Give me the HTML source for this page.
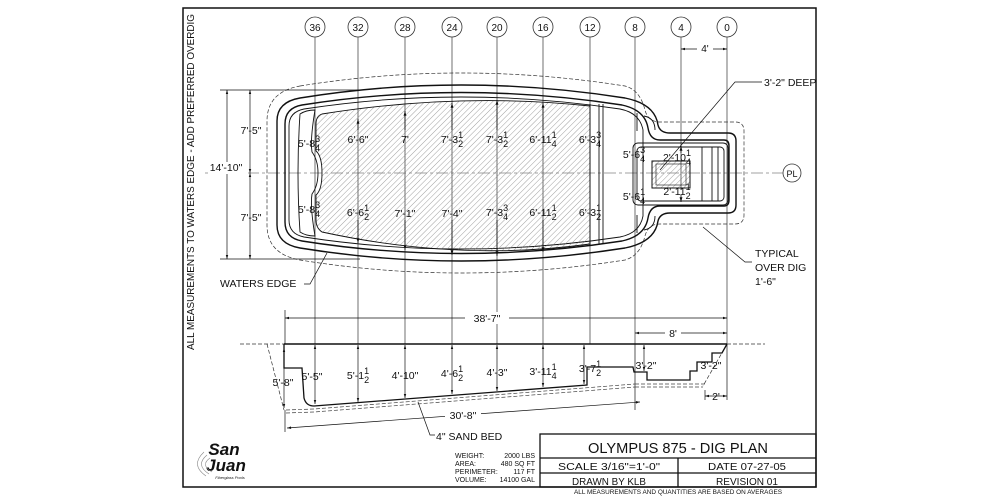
<!DOCTYPE html>
<html><head><meta charset="utf-8"><style>
html,body{margin:0;padding:0;background:#fff;}
svg{display:block;}
text{font-family:"Liberation Sans",Arial,sans-serif;fill:#111;}
</style></head><body>
<svg width="1000" height="500" viewBox="0 0 1000 500" xmlns="http://www.w3.org/2000/svg">
<defs>
<pattern id="h" width="4" height="4" patternUnits="userSpaceOnUse" patternTransform="rotate(45)">
<line x1="0" y1="0" x2="0" y2="4" stroke="#777" stroke-width="0.7"/></pattern>
<marker id="a" viewBox="0 0 10 10" refX="10" refY="5" markerWidth="6" markerHeight="6" orient="auto-start-reverse"><path d="M0,2 L10,5 L0,8 Z" fill="#111"/></marker>
</defs>
<rect width="1000" height="500" fill="#fff"/>
<!-- frame -->
<rect x="183" y="8" width="633" height="479" fill="none" stroke="#111" stroke-width="1.5"/>
<text transform="translate(194,182) rotate(-90)" font-size="10.5" text-anchor="middle" textLength="336" lengthAdjust="spacingAndGlyphs">ALL MEASUREMENTS TO WATERS EDGE - ADD PREFERRED OVERDIG</text>

<!-- column lines & circles -->
<g stroke="#333" stroke-width="0.7" fill="none">
<line x1="315" y1="37" x2="315" y2="344"/><line x1="358" y1="37" x2="358" y2="344"/>
<line x1="405" y1="37" x2="405" y2="344"/><line x1="452" y1="37" x2="452" y2="344"/>
<line x1="497" y1="37" x2="497" y2="344"/><line x1="543" y1="37" x2="543" y2="344"/>
<line x1="590" y1="37" x2="590" y2="344"/><line x1="635" y1="37" x2="635" y2="344"/>
<line x1="681" y1="37" x2="681" y2="190"/><line x1="727" y1="37" x2="727" y2="344"/>
</g>
<g fill="#fff" stroke="#333" stroke-width="0.8">
<circle cx="315" cy="27" r="10"/><circle cx="358" cy="27" r="10"/><circle cx="405" cy="27" r="10"/>
<circle cx="452" cy="27" r="10"/><circle cx="497" cy="27" r="10"/><circle cx="543" cy="27" r="10"/>
<circle cx="590" cy="27" r="10"/><circle cx="635" cy="27" r="10"/><circle cx="681" cy="27" r="10"/>
<circle cx="727" cy="27" r="10"/><circle cx="792" cy="173" r="9"/>
</g>
<g font-size="10" text-anchor="middle">
<text x="315" y="31">36</text><text x="358" y="31">32</text><text x="405" y="31">28</text>
<text x="452" y="31">24</text><text x="497" y="31">20</text><text x="543" y="31">16</text>
<text x="590" y="31">12</text><text x="635" y="31">8</text><text x="681" y="31">4</text><text x="727" y="31">0</text>
<text x="792" y="177" font-size="9">PL</text>
</g>
<!-- 4' dim -->
<line x1="681" y1="49" x2="727" y2="49" stroke="#111" stroke-width="0.7" marker-start="url(#a)" marker-end="url(#a)"/>
<rect x="697" y="43" width="16" height="10" fill="#fff"/><text x="705" y="52" font-size="10" text-anchor="middle">4'</text>

<!-- centerline -->
<line x1="205" y1="173" x2="783" y2="173" stroke="#444" stroke-width="0.6" stroke-dasharray="12,3,3,3"/>

<!-- plan: overdig -->
<path d="M300,86 Q460,60 625,86 Q640,90 645,110 Q648,122 660,122 L735,122 Q744,122 744,131 L744,215 Q744,224 735,224 L660,224 Q648,224 645,236 Q640,256 625,260 Q460,286 300,260 Q267,254 267,225 L267,121 Q267,92 300,86 Z" fill="none" stroke="#333" stroke-width="0.7" stroke-dasharray="4,2"/>
<!-- coping -->
<path d="M300,98 Q460,72 625,98 Q655,104 658,125 Q660,133 670,133 L728,133 Q736,133 736,141 L736,205 Q736,213 728,213 L670,213 Q660,213 658,221 Q655,242 625,248 Q460,274 300,248 Q277,244 277,225 L277,121 Q277,102 300,98 Z" fill="none" stroke="#111" stroke-width="1.4"/>
<path d="M302,105 Q460,80 622,105 Q645,110 648,128 Q650,140 660,140 L724,140 Q729,140 729,146 L729,200 Q729,206 724,206 L660,206 Q650,206 648,218 Q645,236 622,241 Q460,266 302,241 Q285,238 285,222 L285,124 Q285,108 302,105 Z" fill="none" stroke="#111" stroke-width="1.4"/>
<path d="M304,109 Q460,85 620,109 Q640,113 643,130 L643,216 Q640,233 620,237 Q460,261 304,237 Q289,234 289,220 L289,126 Q289,112 304,109 Z" fill="none" stroke="#111" stroke-width="0.9"/>
<!-- left bench -->
<path d="M300,114 Q306,110 315,110 Q310,140 312,152 Q318,160 318,173 Q318,186 312,194 Q310,206 315,236 Q306,236 300,232 Q296,173 300,114 Z" fill="none" stroke="#111" stroke-width="0.9"/>
<!-- hatched floor -->
<path d="M322,114 Q460,92 590,106 L590,244 Q460,262 322,232 Q316,228 316,220 L316,195 Q322,190 322,173 Q322,156 316,151 L316,124 Q316,116 322,114 Z" fill="url(#h)" stroke="#111" stroke-width="0.9"/>
<!-- band -->
<g stroke="#111" stroke-width="0.9" fill="none">
<line x1="590" y1="104" x2="590" y2="246"/><line x1="603" y1="104" x2="603" y2="244"/><line x1="599" y1="104" x2="599" y2="244"/>
<path d="M637,113 L637,131 M644,116 Q655,118 655,130"/><path d="M637,215 L637,233 M644,230 Q655,228 655,216"/>
<!-- step box -->
<rect x="633" y="143" width="95" height="62" rx="5"/>
<rect x="637" y="147" width="87" height="54" rx="4"/>
<line x1="702" y1="147" x2="702" y2="201"/><line x1="712" y1="147" x2="712" y2="201"/><line x1="718" y1="147" x2="718" y2="201"/>
</g>
<rect x="652" y="161" width="38" height="27" fill="url(#h)" stroke="#111" stroke-width="1"/>
<rect x="656" y="164" width="30" height="21" fill="none" stroke="#111" stroke-width="0.6"/>

<!-- plan dim ticks -->
<g stroke="#111" stroke-width="0.8" marker-end="url(#a)">
<line x1="358" y1="130" x2="358" y2="119"/><line x1="405" y1="130" x2="405" y2="111"/><line x1="452" y1="130" x2="452" y2="103"/>
<line x1="497" y1="130" x2="497" y2="100"/><line x1="543" y1="130" x2="543" y2="103"/>
<line x1="358" y1="220" x2="358" y2="243"/><line x1="405" y1="220" x2="405" y2="250"/><line x1="452" y1="220" x2="452" y2="255"/>
<line x1="497" y1="220" x2="497" y2="256"/><line x1="543" y1="220" x2="543" y2="252"/>
<line x1="681" y1="153" x2="681" y2="146"/><line x1="681" y1="195" x2="681" y2="202"/>
</g>

<!-- plan labels -->
<g font-size="10.5" text-anchor="middle">
<text x="309" y="147">5'-8<tspan font-size="9" dy="-5">3</tspan><tspan font-size="9" dx="-5" dy="9">4</tspan></text>
<text x="358" y="143">6'-6"</text>
<text x="405" y="143">7'</text>
<text x="452" y="143">7'-3<tspan font-size="9" dy="-5">1</tspan><tspan font-size="9" dx="-5" dy="9">2</tspan></text>
<text x="497" y="143">7'-3<tspan font-size="9" dy="-5">1</tspan><tspan font-size="9" dx="-5" dy="9">2</tspan></text>
<text x="543" y="143">6'-11<tspan font-size="9" dy="-5">1</tspan><tspan font-size="9" dx="-5" dy="9">4</tspan></text>
<text x="590" y="143">6'-3<tspan font-size="9" dy="-5">3</tspan><tspan font-size="9" dx="-5" dy="9">4</tspan></text>
<text x="309" y="213">5'-8<tspan font-size="9" dy="-5">3</tspan><tspan font-size="9" dx="-5" dy="9">4</tspan></text>
<text x="358" y="216">6'-6<tspan font-size="9" dy="-5">1</tspan><tspan font-size="9" dx="-5" dy="9">2</tspan></text>
<text x="405" y="217">7'-1"</text>
<text x="452" y="217">7'-4"</text>
<text x="497" y="216">7'-3<tspan font-size="9" dy="-5">3</tspan><tspan font-size="9" dx="-5" dy="9">4</tspan></text>
<text x="543" y="216">6'-11<tspan font-size="9" dy="-5">1</tspan><tspan font-size="9" dx="-5" dy="9">2</tspan></text>
<text x="590" y="216">6'-3<tspan font-size="9" dy="-5">1</tspan><tspan font-size="9" dx="-5" dy="9">2</tspan></text>
<text x="634" y="158">5'-6<tspan font-size="9" dy="-5">3</tspan><tspan font-size="9" dx="-5" dy="9">4</tspan></text>
<text x="634" y="200">5'-6<tspan font-size="9" dy="-5">1</tspan><tspan font-size="9" dx="-5" dy="9">4</tspan></text>
<text x="677" y="161">2'-10<tspan font-size="9" dy="-5">1</tspan><tspan font-size="9" dx="-5" dy="9">4</tspan></text>
<text x="677" y="195">2'-11<tspan font-size="9" dy="-5">1</tspan><tspan font-size="9" dx="-5" dy="9">2</tspan></text>
</g>

<!-- left dims -->
<g stroke="#111" stroke-width="0.7">
<line x1="220" y1="90" x2="360" y2="90"/><line x1="220" y1="259" x2="360" y2="259"/>
<line x1="227" y1="90" x2="227" y2="259" marker-start="url(#a)" marker-end="url(#a)"/>
<line x1="250" y1="90" x2="250" y2="173" marker-start="url(#a)" marker-end="url(#a)"/>
<line x1="250" y1="173" x2="250" y2="259" marker-start="url(#a)" marker-end="url(#a)"/>
</g>
<rect x="208" y="162" width="40" height="12" fill="#fff"/>
<g font-size="10.5" text-anchor="middle">
<text x="226" y="171">14'-10"</text>
<text x="251" y="134">7'-5"</text>
<text x="251" y="221">7'-5"</text>
</g>

<!-- leaders -->
<g stroke="#111" stroke-width="0.7" fill="none">
<polyline points="304,284 310,284 327,253"/>
<polyline points="660,170 735,82 762,82"/>
<polyline points="703,227 745,262 752,262"/>
</g>
<g font-size="10.5">
<text x="220" y="287">WATERS EDGE</text>
<text x="764" y="86">3'-2" DEEP</text>
<text x="755" y="257">TYPICAL</text>
<text x="755" y="271">OVER DIG</text>
<text x="755" y="285">1'-6"</text>
</g>

<!-- section dims -->
<g stroke="#111" stroke-width="0.7">
<line x1="285" y1="310" x2="285" y2="344"/>
<line x1="285" y1="318" x2="727" y2="318" marker-start="url(#a)" marker-end="url(#a)"/>
<line x1="635" y1="333" x2="727" y2="333" marker-start="url(#a)" marker-end="url(#a)"/>
<line x1="635" y1="344" x2="635" y2="410"/>
<line x1="727" y1="344" x2="727" y2="400"/>
<line x1="705" y1="390" x2="705" y2="400"/>
<line x1="705" y1="396" x2="727" y2="396" marker-start="url(#a)" marker-end="url(#a)"/>
<line x1="287" y1="428" x2="640" y2="402" marker-start="url(#a)" marker-end="url(#a)"/>
<line x1="285" y1="410" x2="285" y2="432"/>
<line x1="284" y1="348" x2="284" y2="408" marker-start="url(#a)" marker-end="url(#a)"/>
</g>
<rect x="465" y="312" width="44" height="12" fill="#fff"/>
<rect x="665" y="327" width="16" height="12" fill="#fff"/>
<rect x="445" y="409" width="36" height="12" fill="#fff"/>
<g font-size="10.5" text-anchor="middle">
<text x="487" y="322">38'-7"</text>
<text x="673" y="337">8'</text>
<text x="716" y="400">2'</text>
<text x="463" y="419">30'-8"</text>
<text x="283" y="386">5'-8"</text>
</g>

<!-- section profile -->
<line x1="240" y1="344" x2="284" y2="344" stroke="#333" stroke-width="0.7" stroke-dasharray="4,2"/>
<line x1="727" y1="344" x2="765" y2="344" stroke="#333" stroke-width="0.7" stroke-dasharray="4,2"/>
<line x1="267" y1="344" x2="284" y2="410" stroke="#333" stroke-width="0.7" stroke-dasharray="4,2"/>
<line x1="727" y1="344" x2="703" y2="386" stroke="#333" stroke-width="0.7" stroke-dasharray="4,2"/>
<line x1="284" y1="344" x2="727" y2="344" stroke="#111" stroke-width="1.6"/>
<path d="M284,344 L284,368 L302,368 L304,398 Q306,406 314,406 L587,385 L587,367 L633,367 L634,372 L647,372 L647,380 L690,380 L690,371 L697,371 L697,362 L712,362 L712,353 L722,353 L727,344" fill="none" stroke="#111" stroke-width="1.3"/>
<g stroke="#444" stroke-width="0.7" fill="none" stroke-dasharray="4,2">
<path d="M286,410 L314,409 L635,384"/><path d="M286,413 L314,412 L635,387"/>
<path d="M635,384 L705,384"/><path d="M635,387 L703,387"/>
</g>
<polyline points="418,402 430,435 435,435" fill="none" stroke="#111" stroke-width="0.7"/>
<text x="436" y="440" font-size="10.5">4" SAND BED</text>

<!-- section vertical dims -->
<g stroke="#111" stroke-width="0.7" marker-start="url(#a)" marker-end="url(#a)">
<line x1="315" y1="345" x2="315" y2="404"/><line x1="358" y1="345" x2="358" y2="402"/>
<line x1="405" y1="345" x2="405" y2="398"/><line x1="452" y1="345" x2="452" y2="394"/>
<line x1="497" y1="345" x2="497" y2="391"/><line x1="543" y1="345" x2="543" y2="387"/>
<line x1="584" y1="345" x2="584" y2="384"/><line x1="644" y1="345" x2="644" y2="371"/>
</g>
<g font-size="10.5" text-anchor="middle">
<text x="312" y="380">5'-5"</text>
<text x="358" y="379">5'-1<tspan font-size="9" dy="-5">1</tspan><tspan font-size="9" dx="-5" dy="9">2</tspan></text>
<text x="405" y="379">4'-10"</text>
<text x="452" y="377">4'-6<tspan font-size="9" dy="-5">1</tspan><tspan font-size="9" dx="-5" dy="9">2</tspan></text>
<text x="497" y="376">4'-3"</text>
<text x="543" y="375">3'-11<tspan font-size="9" dy="-5">1</tspan><tspan font-size="9" dx="-5" dy="9">4</tspan></text>
<text x="590" y="372">3'-7<tspan font-size="9" dy="-5">1</tspan><tspan font-size="9" dx="-5" dy="9">2</tspan></text>
<text x="646" y="369">3'-2"</text>
<text x="711" y="369">3'-2"</text>
</g>

<!-- logo -->
<g>
<text x="224" y="455" font-family="Liberation Serif,serif" font-weight="bold" font-style="italic" font-size="17" text-anchor="middle">San</text>
<text x="226" y="471" font-family="Liberation Serif,serif" font-weight="bold" font-style="italic" font-size="17" text-anchor="middle">Juan</text>
<text x="230" y="479" font-size="4" font-style="italic" text-anchor="middle">Fiberglass Pools</text>
<g fill="none" stroke="#888" stroke-width="0.6">
<path d="M206,476 Q190,465 204,452"/><path d="M209,474 Q195,465 207,455"/><path d="M212,472 Q200,465 210,458"/>
</g>
</g>

<!-- specs -->
<g font-size="7">
<text x="455" y="458">WEIGHT:</text><text x="455" y="466">AREA:</text><text x="455" y="474">PERIMETER:</text><text x="455" y="482">VOLUME:</text>
<g text-anchor="end"><text x="535" y="458">2000 LBS</text><text x="535" y="466">480 SQ FT</text><text x="535" y="474">117 FT</text><text x="535" y="482">14100 GAL</text></g>
</g>

<!-- title block -->
<g fill="none" stroke="#111" stroke-width="1.3">
<rect x="540" y="434" width="276" height="53"/>
<line x1="540" y1="458" x2="816" y2="458"/><line x1="540" y1="473" x2="816" y2="473"/>
<line x1="678" y1="458" x2="678" y2="487"/>
</g>
<g font-family="DejaVu Sans,sans-serif" text-anchor="middle">
<text x="678" y="453" font-size="15" textLength="180" lengthAdjust="spacingAndGlyphs">OLYMPUS 875 - DIG PLAN</text>
<text x="609" y="470" font-size="10" textLength="102" lengthAdjust="spacingAndGlyphs">SCALE 3/16"=1'-0"</text>
<text x="747" y="470" font-size="10" textLength="78" lengthAdjust="spacingAndGlyphs">DATE 07-27-05</text>
<text x="609" y="485" font-size="10" textLength="74" lengthAdjust="spacingAndGlyphs">DRAWN BY KLB</text>
<text x="747" y="485" font-size="10" textLength="62" lengthAdjust="spacingAndGlyphs">REVISION 01</text>
</g>
<text x="678" y="494" font-size="6" text-anchor="middle" textLength="208" lengthAdjust="spacingAndGlyphs">ALL MEASUREMENTS AND QUANTITIES ARE BASED ON AVERAGES</text>
</svg>
</body></html>
